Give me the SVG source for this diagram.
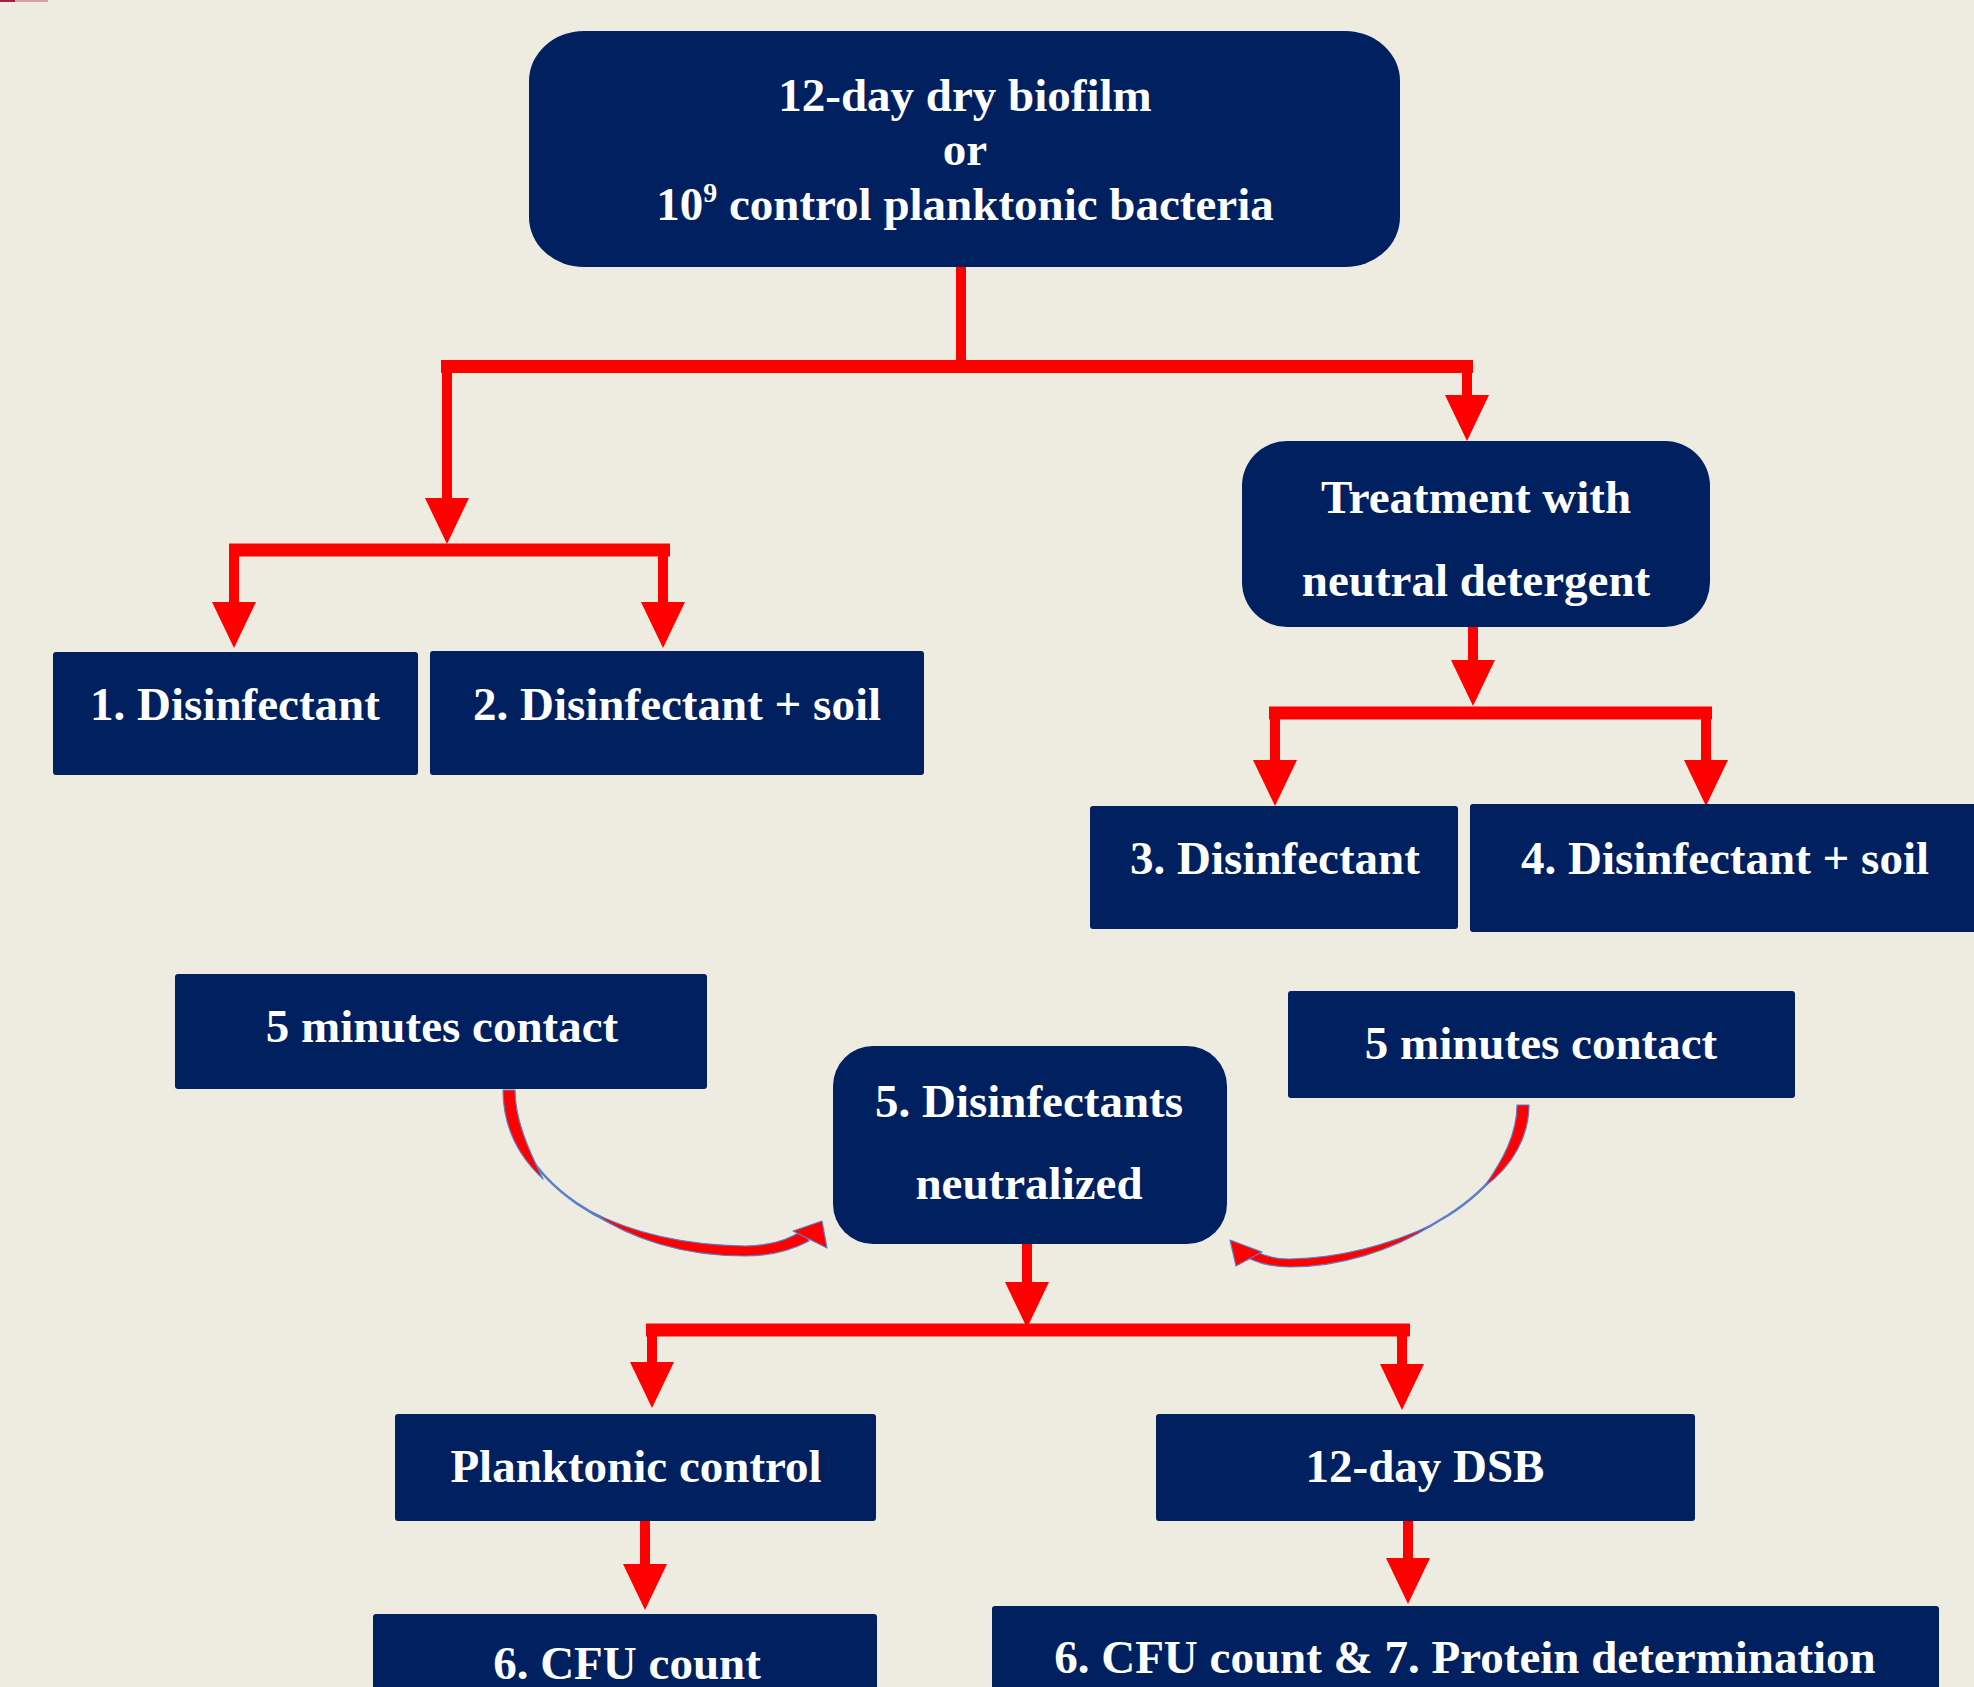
<svg xmlns="http://www.w3.org/2000/svg" width="1974" height="1687" viewBox="0 0 1974 1687">
<defs>
<style>
.bg{fill:#EEECE1}
.box{fill:#002060}
.t{font-family:"Liberation Serif","Times New Roman",serif;font-weight:bold;font-size:47px;fill:#FFFFFF;text-anchor:middle}
.stem{stroke:#FF0000;stroke-width:10;fill:none}
.bar{stroke:#FF0000;stroke-width:13;fill:none}
.thin{fill:none;stroke:#5B7FC8;stroke-width:2.5}
.curve{fill:#FF0000;stroke:#5B7FC8;stroke-width:1.2;stroke-linejoin:round}
</style>
<marker id="ah" viewBox="0 0 46 44" markerWidth="46" markerHeight="44" refX="0" refY="22" orient="auto" markerUnits="userSpaceOnUse">
<path d="M0,0 L46,22 L0,44 Z" fill="#FF0000"/>
</marker>
</defs>
<rect class="bg" x="0" y="0" width="1974" height="1687"/>
<rect x="0" y="0" width="15" height="2" fill="#A0204A"/>
<rect x="15" y="0" width="33" height="2" fill="#D9A0AC"/>

<g id="connectors">
<path class="stem" d="M961,267 V366"/>
<path class="bar" d="M441,366.5 H1473"/>
<path class="stem" d="M447,372 V498" marker-end="url(#ah)"/>
<path class="stem" d="M1467,372 V395" marker-end="url(#ah)"/>
<path class="bar" d="M229,550 H670"/>
<path class="stem" d="M234,556 V602" marker-end="url(#ah)"/>
<path class="stem" d="M663,556 V602" marker-end="url(#ah)"/>
<path class="stem" d="M1473,627 V660" marker-end="url(#ah)"/>
<path class="bar" d="M1269,713 H1712"/>
<path class="stem" d="M1275,719 V760" marker-end="url(#ah)"/>
<path class="stem" d="M1706,719 V760" marker-end="url(#ah)"/>
<path class="stem" d="M1027,1244 V1282" marker-end="url(#ah)"/>
<path class="bar" d="M646,1330 H1410"/>
<path class="stem" d="M652,1336 V1362" marker-end="url(#ah)"/>
<path class="stem" d="M1402,1336 V1364" marker-end="url(#ah)"/>
<path class="stem" d="M645,1521 V1564" marker-end="url(#ah)"/>
<path class="stem" d="M1408,1521 V1558" marker-end="url(#ah)"/>
<g id="curveL">
<path class="thin" d="M509,1090 C509,1178 610,1250 745,1251 C770,1251 792,1244 806,1235"/>
<path class="curve" d="M503,1090 C503,1122 515,1153 543,1179 C527,1147 515,1118 515,1090 Z"/>
<path class="curve" d="M590,1211 C630,1239 683,1256 745,1256 C772,1256 794,1249 809,1241 L803,1230 C790,1239 770,1246 745,1246 C686,1245 632,1233 590,1211 Z"/>
<path class="curve" d="M822,1221 L793,1231 L827,1248 Z"/>
</g>
<g id="curveR">
<path class="thin" d="M1523,1105 C1523,1190 1400,1262 1290,1263 C1275,1263 1262,1260 1252,1255"/>
<path class="curve" d="M1529,1105 C1529,1136 1513,1166 1484,1187 C1503,1160 1517,1134 1517,1105 Z"/>
<path class="curve" d="M1434,1224 C1392,1251 1339,1267 1290,1267 C1275,1267 1261,1264 1250,1259 L1255,1251 C1264,1256 1276,1259 1290,1259 C1340,1258 1391,1244 1434,1224 Z"/>
<path class="curve" d="M1230,1240 L1236,1266 L1262,1252 Z"/>
</g>
</g>

<g id="start">
<rect class="box" x="529" y="31" width="871" height="236" rx="55" ry="50"/>
<text class="t" x="965" y="111">12-day dry biofilm</text>
<text class="t" x="965" y="165">or</text>
<text class="t" x="965" y="220">10<tspan font-size="28" dy="-18">9</tspan><tspan dy="18"> control planktonic bacteria</tspan></text>
</g>
<g id="treatment">
<rect class="box" x="1242" y="441" width="468" height="186" rx="45" ry="45"/>
<text class="t" x="1476" y="513">Treatment with</text>
<text class="t" x="1476" y="596">neutral detergent</text>
</g>
<g id="n1">
<rect class="box" x="53" y="652" width="365" height="123" rx="3"/>
<text class="t" x="235" y="720">1. Disinfectant</text>
</g>
<g id="n2">
<rect class="box" x="430" y="651" width="494" height="124" rx="3"/>
<text class="t" x="677" y="720">2. Disinfectant + soil</text>
</g>
<g id="n3">
<rect class="box" x="1090" y="806" width="368" height="123" rx="3"/>
<text class="t" x="1275" y="874">3. Disinfectant</text>
</g>
<g id="n4">
<rect class="box" x="1470" y="804" width="520" height="128" rx="3"/>
<text class="t" x="1725" y="874">4. Disinfectant + soil</text>
</g>
<g id="contactL">
<rect class="box" x="175" y="974" width="532" height="115" rx="3"/>
<text class="t" x="442" y="1042">5 minutes contact</text>
</g>
<g id="contactR">
<rect class="box" x="1288" y="991" width="507" height="107" rx="3"/>
<text class="t" x="1541" y="1059">5 minutes contact</text>
</g>
<g id="n5">
<rect class="box" x="833" y="1046" width="394" height="198" rx="40" ry="40"/>
<text class="t" x="1029" y="1117">5. Disinfectants</text>
<text class="t" x="1029" y="1199">neutralized</text>
</g>
<g id="planktonic">
<rect class="box" x="395" y="1414" width="481" height="107" rx="3"/>
<text class="t" x="636" y="1482">Planktonic control</text>
</g>
<g id="dsb">
<rect class="box" x="1156" y="1414" width="539" height="107" rx="3"/>
<text class="t" x="1425" y="1482">12-day DSB</text>
</g>
<g id="cfu">
<rect class="box" x="373" y="1614" width="504" height="90" rx="3"/>
<text class="t" x="627" y="1679">6. CFU count</text>
</g>
<g id="cfuprot">
<rect class="box" x="992" y="1606" width="947" height="98" rx="3"/>
<text class="t" x="1465" y="1673">6. CFU count &amp; 7. Protein determination</text>
</g>
</svg>
